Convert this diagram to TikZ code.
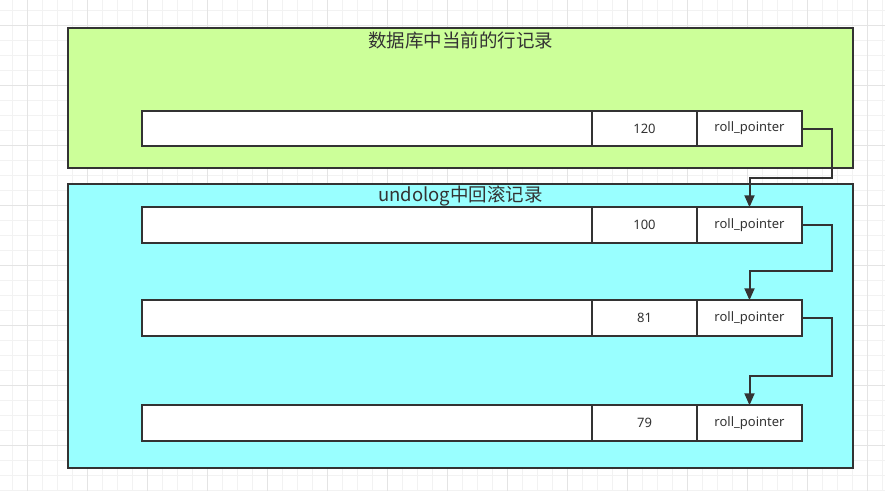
\documentclass[tikz,border=0pt]{standalone}
\usepackage{fontspec}
\setmainfont{Noto Sans}
\newfontfamily\cjk{Noto Sans CJK SC}
\usetikzlibrary{arrows.meta, positioning}

\definecolor{dbgreen}{HTML}{CCFF99}
\definecolor{undoblue}{HTML}{99FFFF}
\definecolor{linegray}{HTML}{333333}
\definecolor{gridminor}{HTML}{F2F2F2}
\definecolor{gridmajor}{HTML}{E4E4E4}

\begin{document}
\begin{tikzpicture}[x=1pt, y=-1pt, >={Triangle[length=12pt, width=10pt]},
	every node/.style={text=linegray, line width=2pt, inner sep=0pt, outer sep=0pt},
	area/.style={draw=linegray, rectangle, minimum width=785pt},
	title/.style={font=\cjk\fontsize{18.5}{20}\selectfont},
	blank/.style={draw=linegray, fill=white, minimum width=450pt, minimum height=35.5pt},
	cell/.style={draw=linegray, fill=white, minimum width=105pt, minimum height=35.5pt, font=\fontsize{13}{15}\selectfont},
	link/.style={->, draw=linegray, line width=2pt}]
		\useasboundingbox (0,0) rectangle (885,491);

		% grid
		\foreach \gx in {12,27,...,882}
			\draw[gridminor, line width=1pt] (\gx,0) -- (\gx,491);
		\foreach \gy in {10,25,...,490}
			\draw[gridminor, line width=1pt] (0,\gy) -- (885,\gy);
		\foreach \gx in {27,87,...,867}
			\draw[gridmajor, line width=1pt] (\gx,0) -- (\gx,491);
		\foreach \gy in {25,85,...,445}
			\draw[gridmajor, line width=1pt] (0,\gy) -- (885,\gy);

		% areas
		\node[area, fill=dbgreen, minimum height=139.5pt]	(current) at (460.5, 97.75) {};
		\node[area, fill=undoblue, minimum height=284pt]	(undo) at (460.5, 326) {};
		\node[title]	(currenttitle) at (460.5, 40.5) {数据库中当前的行记录};
		\node[title]	(undotitle) at (460.5, 196) {undolog中回滚记录};

		% records
		\node[blank]					(b1) at (367, 128.5) {};
		\node[cell, right=0pt of b1]	(v1) {120};
		\node[cell, right=0pt of v1]	(p1) {roll\_pointer};

		\node[blank]					(b2) at (367, 225) {};
		\node[cell, right=0pt of b2]	(v2) {100};
		\node[cell, right=0pt of v2]	(p2) {roll\_pointer};

		\node[blank]					(b3) at (367, 318) {};
		\node[cell, right=0pt of b3]	(v3) {81};
		\node[cell, right=0pt of v3]	(p3) {roll\_pointer};

		\node[blank]					(b4) at (367, 423) {};
		\node[cell, right=0pt of b4]	(v4) {79};
		\node[cell, right=0pt of v4]	(p4) {roll\_pointer};

		% pointers
		\draw[link] (p1.east) -| (832, 178) -| (p2.north);
		\draw[link] (p2.east) -| (832, 271) -| (p3.north);
		\draw[link] (p3.east) -| (832, 376) -| (p4.north);
\end{tikzpicture}
\end{document}
